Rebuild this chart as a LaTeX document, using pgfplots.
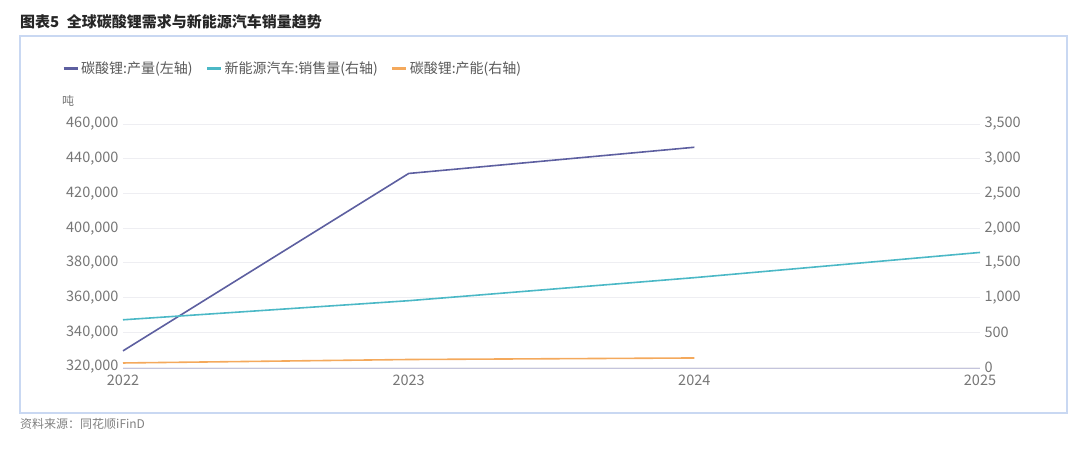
\documentclass[border=0pt]{standalone}
\usepackage{fontspec}
\setmainfont{Noto Sans CJK SC}
\usepackage{pgfplots}
\pgfplotsset{compat=1.18}
\definecolor{cpur}{HTML}{5D5FA0}
\definecolor{ccya}{HTML}{4BB8C6}
\definecolor{cora}{HTML}{F4A95C}
\definecolor{cframe}{HTML}{C9D8F2}
\definecolor{cgrid}{HTML}{EEEEF2}
\definecolor{ctick}{HTML}{767676}
\definecolor{caxis}{HTML}{C4C4DC}
\begin{document}
\begin{tikzpicture}
\path (0,0) rectangle (1080bp,-449bp);
\draw[cframe, line width=1.3bp] (20bp,-36bp) rectangle (1067bp,-413bp);
\node[anchor=west, inner sep=0pt, font=\fontsize{15bp}{17bp}\selectfont\bfseries, text=black!85] at (20bp,-22bp) {图表5\hspace{0.5em}全球碳酸锂需求与新能源汽车销量趋势};
\node[anchor=west, inner sep=0pt, font=\fontsize{12bp}{14bp}\selectfont, text=black!50] at (20bp,-424bp) {资料来源：同花顺iFinD};
\node[anchor=west, inner sep=0pt, font=\fontsize{12bp}{14bp}\selectfont, text=ctick] at (62bp,-101bp) {吨};
\pgfplotsset{
  base/.style={
    at={(123bp,-367bp)}, anchor=south west,
    scale only axis, width=857bp, height=243bp,
    xmin=2022, xmax=2025,
    axis line style={draw=none},
    major tick style={draw=none},
    tick label style={text=ctick, font=\fontsize{14.5bp}{16bp}\selectfont},
    /pgf/number format/assume math mode=true,
    clip=false,
  }
}
\begin{axis}[base,
  ymin=320000, ymax=460000,
  ytick={320000,340000,...,460000},
  scaled y ticks=false,
  yticklabel style={xshift=-1bp, /pgf/number format/fixed, /pgf/number format/1000 sep={,}},
  xtick={2022,2023,2024,2025},
  xticklabel style={yshift=-4bp, /pgf/number format/1000 sep={}},
  ymajorgrids, major grid style={cgrid, line width=0.8bp},
]
\draw[caxis, line width=1bp] (rel axis cs:0,-0.008) -- (rel axis cs:1,-0.008);
\addplot[cpur, line width=1.6bp] coordinates {(2022,329300) (2023,431500) (2024,446600)};
\end{axis}
\begin{axis}[base,
  ymin=0, ymax=3500,
  ytick={0,500,...,3500},
  yticklabel pos=right,
  yticklabel style={anchor=west, xshift=1bp, /pgf/number format/fixed, /pgf/number format/1000 sep={,}},
  xtick=\empty,
  legend style={at={(-0.0712,1.230)}, anchor=west, draw=none, fill=none,
    legend columns=3, font=\fontsize{14bp}{16bp}\selectfont, text=black!65,
    /tikz/every even column/.append style={column sep=11bp},
    inner sep=0pt},
  legend cell align=left,
  legend image code/.code={\draw[#1, line width=3bp] (0bp,0bp) -- (14bp,0bp);},
]
\addlegendimage{cpur}
\addlegendentry{碳酸锂:产量(左轴)}
\addplot[ccya, line width=1.6bp] coordinates {(2022,680) (2023,955) (2024,1287) (2025,1650)};
\addlegendentry{新能源汽车:销售量(右轴)}
\addplot[cora, line width=1.6bp] coordinates {(2022,58) (2023,108) (2024,130)};
\addlegendentry{碳酸锂:产能(右轴)}
\end{axis}
\end{tikzpicture}
\end{document}
